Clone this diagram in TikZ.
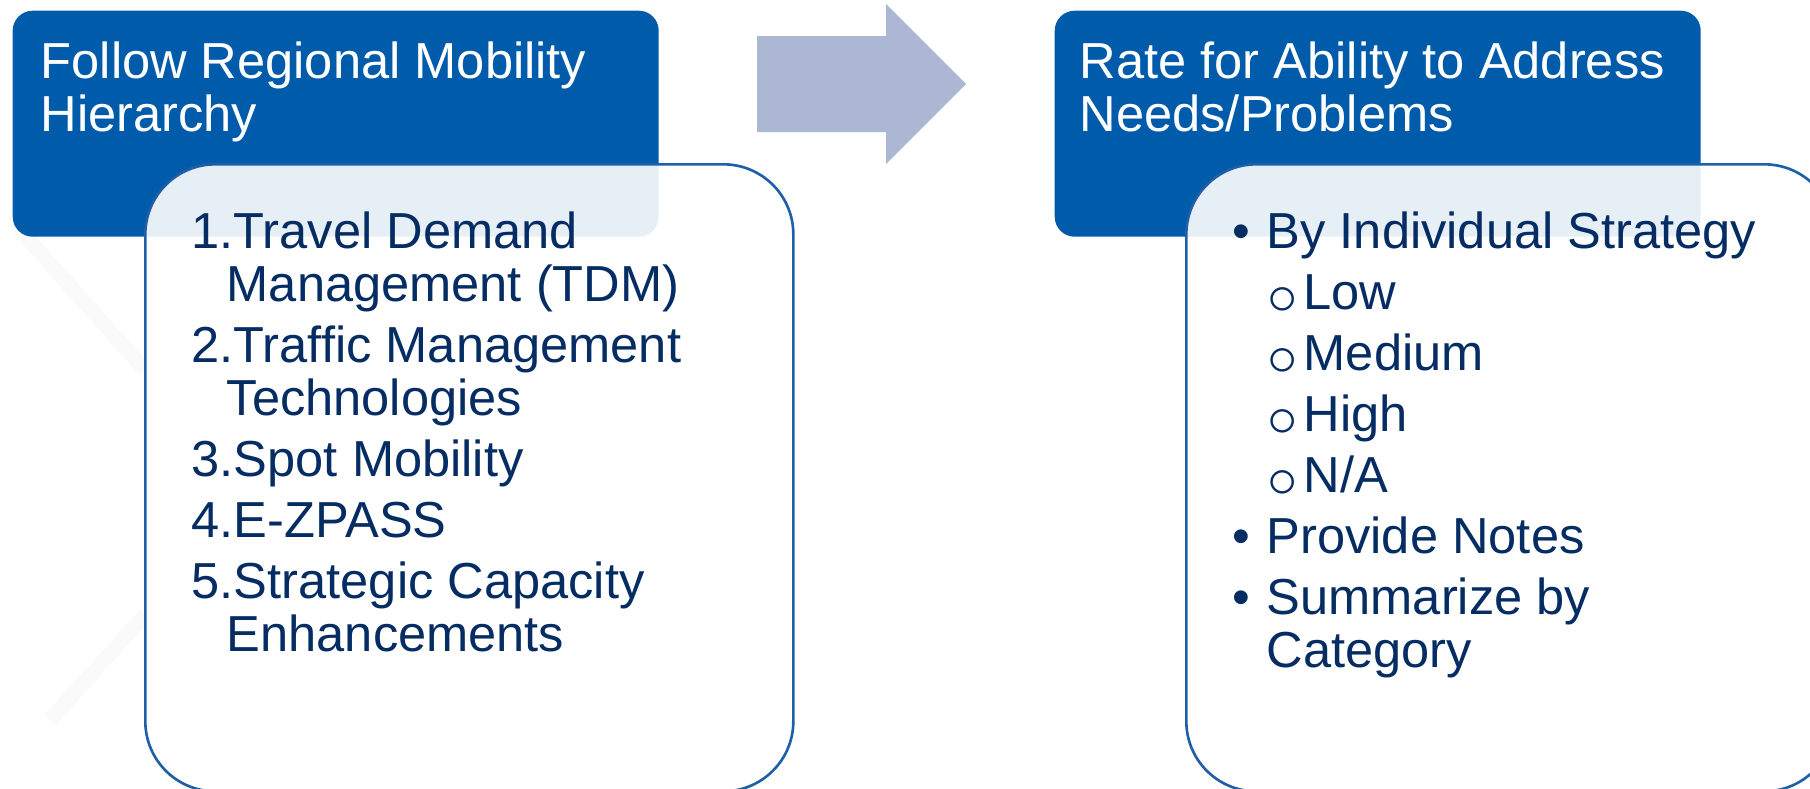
\documentclass[tikz,border=0pt]{standalone}
\usepackage{fontspec}
\setmainfont{Liberation Sans}
\usepackage{xcolor}
\usepackage{tikz}
\usetikzlibrary{positioning}
\definecolor{hdrblue}{HTML}{005BAA}
\definecolor{edgeblue}{HTML}{1F5FA8}
\definecolor{inkblue}{HTML}{062D63}
\definecolor{flowgrey}{HTML}{ABB7D3}
\newcommand\mainpoint[1]{\makebox[0.34cm][l]{•}#1}
\newcommand\subpoint[1]{\hspace*{0.35cm}\makebox[0.36cm][l]{\fontsize{16.5pt}{16.5pt}\selectfont\raisebox{-0.05cm}{$\circ$}}#1}
\tikzset{
    header/.style={
        fill = hdrblue, rounded corners = 0.2cm,
        minimum width = 6.46cm,
        minimum height = 2.26cm,
        anchor = north west, inner sep = 0pt
    },
    panel/.style={
        draw = edgeblue, line width = 0.75pt,
        fill = white, fill opacity = 0.9,
        rounded corners = 0.7cm,
        minimum width = 6.48cm,
        minimum height = 6.27cm,
        anchor = north west, inner sep = 0pt
    },
    headtext/.style = {text = white, align = left, inner sep = 0pt, anchor = base west,
        font = \fontsize{14.4pt}{14.8pt}\selectfont},
    listtext/.style = {text = inkblue, align = left, inner sep = 0pt, anchor = base west,
        font = \fontsize{14.4pt}{15.08pt}\selectfont}
}
\begin{document}
\begin{tikzpicture}

                        \useasboundingbox (0,0) rectangle (18.10,-7.88);

                        % Faint backdrop
                        \draw[gray!4, line width = 0.15cm] (0.2,-2.3) -- (1.45,-3.7);
                        \draw[gray!4, line width = 0.15cm] (1.45,-6.15) -- (0.5,-7.2);

                        % Left step
                        \node[header] (hier) at (0.12,-0.10) {};
                        \node[panel] (hierpanel) at (1.44,-1.63) {};

                        % Block arrow
                        \fill[flowgrey] (7.57,-0.36) -- (8.86,-0.36) -- (8.86,-0.04) -- (9.66,-0.84)
                            -- (8.86,-1.64) -- (8.86,-1.32) -- (7.57,-1.32) -- cycle;

                        % Right step
                        \node[header] (rate) at (10.54,-0.10) {};
                        \node[panel] (ratepanel) at (11.85,-1.63) {};

                        % Titles (base = last line)
                        \node[headtext] (hiertitle) at ([shift={(0.28,-1.21)}]hier.north west)
                            {Follow Regional Mobility\\Hierarchy};
                        \node[headtext] (ratetitle) at ([shift={(0.25,-1.21)}]rate.north west)
                            {Rate for Ability to Address\\Needs/Problems};

                        % Lists (base = last line)
                        \node[listtext] (hierlist) at ([shift={(0.47,-4.88)}]hierpanel.north west) {
                            1.Travel Demand\\
                            \hspace*{0.35cm}Management (TDM)\\[0.08cm]
                            2.Traffic Management\\
                            \hspace*{0.35cm}Technologies\\[0.08cm]
                            3.Spot Mobility\\[0.08cm]
                            4.E-ZPASS\\[0.08cm]
                            5.Strategic Capacity\\
                            \hspace*{0.35cm}Enhancements};
                        \node[listtext] (ratelist) at ([shift={(0.47,-5.04)}]ratepanel.north west) {
                            \mainpoint{By Individual Strategy}\\[0.08cm]
                            \subpoint{Low}\\[0.08cm]
                            \subpoint{Medium}\\[0.08cm]
                            \subpoint{High}\\[0.08cm]
                            \subpoint{N/A}\\[0.08cm]
                            \mainpoint{Provide Notes}\\[0.08cm]
                            \mainpoint{Summarize by}\\
                            \hspace*{0.34cm}Category};

                    \end{tikzpicture}
\end{document}
